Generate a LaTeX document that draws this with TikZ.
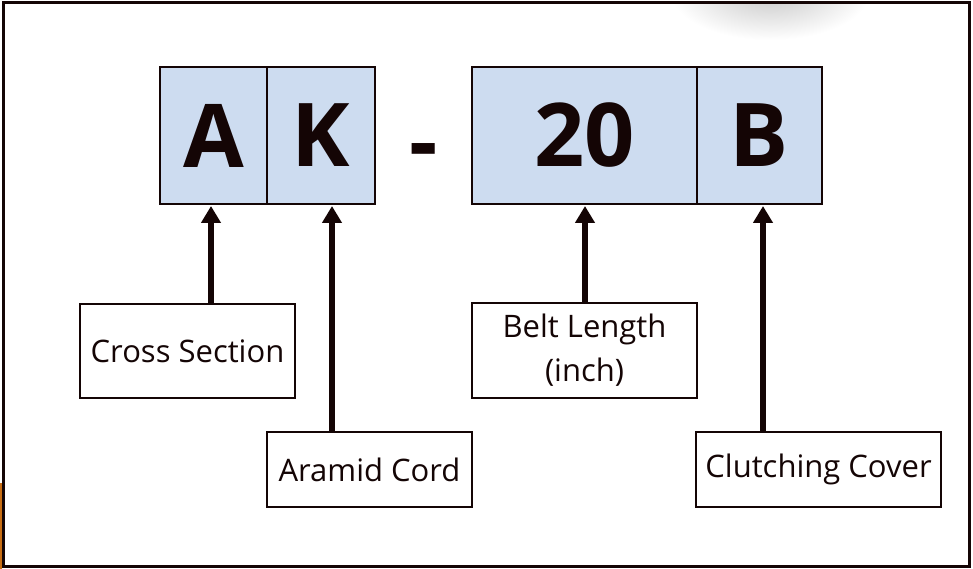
\documentclass[tikz,border=0pt]{standalone}
\usepackage{fontspec}
\setmainfont{Open Sans}
\usetikzlibrary{arrows.meta,calc}
\definecolor{ink}{RGB}{20,5,5}
\definecolor{codefill}{RGB}{205,220,240}
\definecolor{edgeorange}{RGB}{200,110,20}
\tikzset{
  codebox/.style={draw=ink, line width=2pt, fill=codefill, inner sep=0pt,
    font=\fontsize{88}{88}\selectfont\bfseries, text=ink},
  labelbox/.style={draw=ink, line width=1.8pt, fill=white, inner sep=0pt,
    font=\fontsize{31}{44}\selectfont, text=ink, align=center},
  arr/.style={draw=ink, line width=6pt, -{Triangle[width=19pt,length=17pt]}},
}
\begin{document}
\begin{tikzpicture}[x=1pt,y=-1pt]
\useasboundingbox (0,0) rectangle (973,569);
\fill[white] (0,0) rectangle (973,569);
% shadow at top right
\begin{scope}
\clip (5,4) rectangle (968,565);
\shade[inner color=black!22, outer color=white] (770,-8) ellipse (100 and 48);
\end{scope}
% orange edge bottom left
\draw[edgeorange, line width=1.5pt] (0.75,483) -- (0.75,569);
% outer frame
\draw[ink, line width=3.5pt] (3.5,2.5) rectangle (969.5,566.5);
% code boxes
\node[codebox, minimum width=107pt, minimum height=137pt] (A) at (213.5,135.5) {A};
\node[codebox, minimum width=108pt, minimum height=137pt] (K) at (321,135.5) {K};
\node[font=\fontsize{88}{88}\selectfont\bfseries, text=ink, inner sep=0pt] (dash) at (424,158) {-};
\node[codebox, minimum width=225pt, minimum height=137pt] (L) at (584.5,135.5) {20};
\node[codebox, minimum width=125pt, minimum height=137pt] (B) at (759.5,135.5) {B};
% label boxes
\node[labelbox, minimum width=215pt, minimum height=94pt] (cs) at (187.5,351) {Cross Section};
\node[labelbox, minimum width=205pt, minimum height=75pt] (ac) at (369.5,469.5) {Aramid Cord};
\node[labelbox, minimum width=225pt, minimum height=95pt] (bl) at (584.5,350.5) {Belt Length\\(inch)};
\node[labelbox, minimum width=245pt, minimum height=75pt] (cc) at (818.5,469.5) {Clutching Cover};
% arrows
\coordinate (ax) at ($(A.south)+(-2.5,1)$);
\coordinate (kx) at ($(K.south)+(11,1)$);
\coordinate (lx) at ($(L.south)+(0.5,1)$);
\coordinate (bx) at ($(B.south)+(3.5,1)$);
\draw[arr] (ax |- cs.north) -- (ax);
\draw[arr] (kx |- ac.north) -- (kx);
\draw[arr] (lx |- bl.north) -- (lx);
\draw[arr] (bx |- cc.north) -- (bx);
\end{tikzpicture}
\end{document}
